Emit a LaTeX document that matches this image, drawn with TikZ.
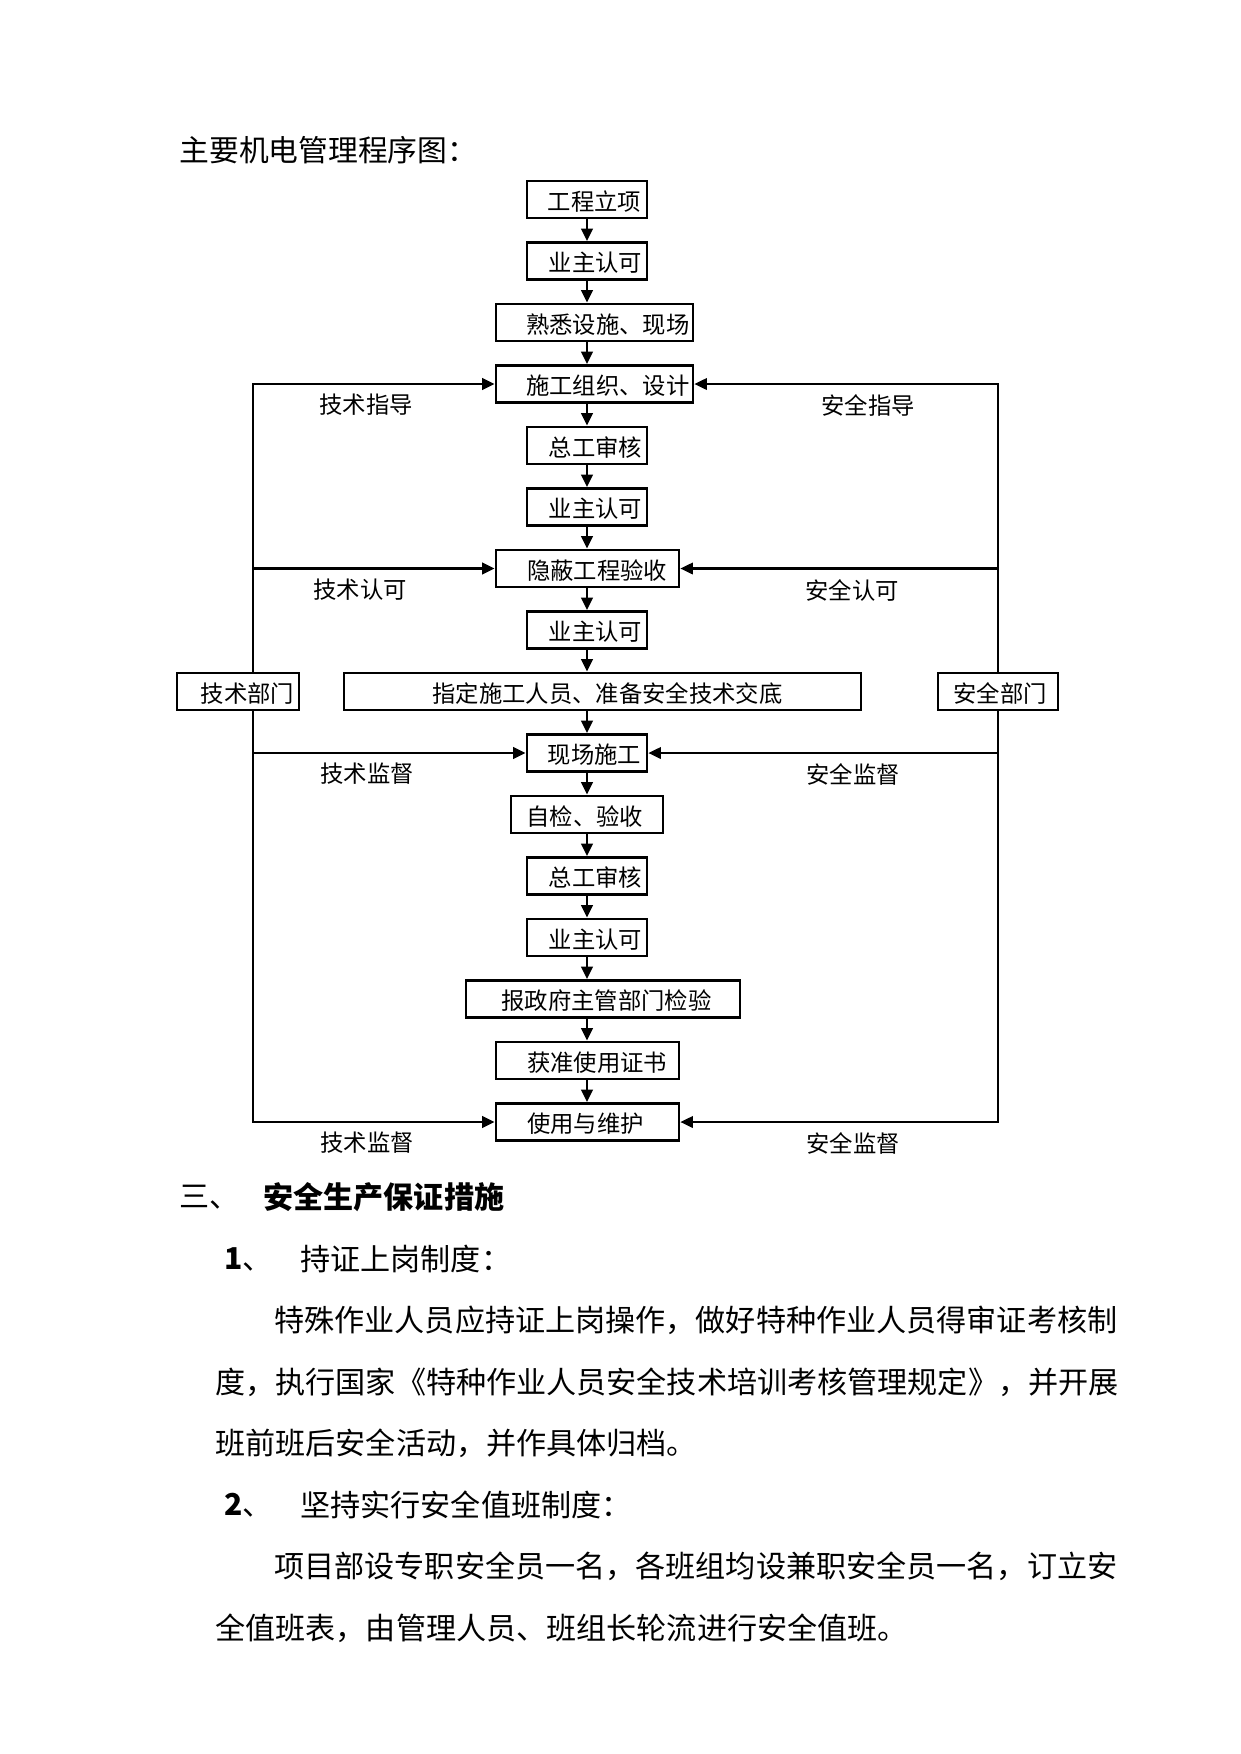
\documentclass[tikz,border=0pt]{standalone}
\usepackage{fontspec}
\setmainfont{Liberation Serif}
\newfontfamily\cjk{Noto Sans CJK SC}
\usetikzlibrary{arrows.meta}
\newcommand\bxfont{\cjk\fontsize{11.2pt}{13pt}\selectfont}
\newcommand\bdfont{\cjk\fontsize{14.45pt}{17pt}\selectfont}
\newcommand\ttlfont{\cjk\fontsize{14.3pt}{16pt}\selectfont}
\tikzset{
  x=0.48pt, y=-0.48pt,
  fbox/.style={draw, fill=white, line width=1.3pt, inner xsep=0pt, inner ysep=0pt,
    minimum height=17.8pt, text width=#1*0.48pt, align=left, font=\bxfont},
  arr/.style={line width=1.3pt, -{Triangle[length=6pt,width=5.5pt]}},
  conn/.style={line width=1.3pt, -{Triangle[length=6pt,width=5.5pt]}},
  connr/.style={line width=1pt, -{Triangle[length=6pt,width=5.5pt]}},
  lbl/.style={font=\bxfont, inner sep=0pt},
  txt/.style={anchor=west, inner sep=0pt, font=\bdfont},
}
\newcommand\bt[2]{\hspace*{#1}\raisebox{-0.9pt}[\height][\depth]{#2}}
\begin{document}
\begin{tikzpicture}
\useasboundingbox (0,0) rectangle (1241,1754);
% title
\node[txt, font=\ttlfont] (title) at (179,150) {主要机电管理程序图：};
% boxes
\node[fbox=120] (b1) at (587,199.5) {\bt{10pt}{工程立项}};
\node[fbox=120] (b2) at (587,261) {\bt{10.5pt}{业主认可}};
\node[fbox=197] (b3) at (594.5,322.5) {\bt{14.5pt}{熟悉设施、现场}};
\node[fbox=197] (b4) at (594.5,384) {\bt{14.5pt}{施工组织、设计}};
\node[fbox=120] (b5) at (587,445.5) {\bt{10.5pt}{总工审核}};
\node[fbox=120] (b6) at (587,507) {\bt{10.5pt}{业主认可}};
\node[fbox=183] (b7) at (587.5,568.5) {\bt{15pt}{隐蔽工程验收}};
\node[fbox=120] (b8) at (587,630) {\bt{10.5pt}{业主认可}};
\node[fbox=517] (b9) at (602.5,691.5) {\bt{42.5pt}{指定施工人员、准备安全技术交底}};
\node[fbox=120] (b10) at (587,753) {\bt{10pt}{现场施工}};
\node[fbox=152] (b11) at (587,814.5) {\bt{7.5pt}{自检、验收}};
\node[fbox=120] (b12) at (587,876) {\bt{10.5pt}{总工审核}};
\node[fbox=120] (b13) at (587,937.5) {\bt{10.5pt}{业主认可}};
\node[fbox=274] (b14) at (603,999) {\bt{17pt}{报政府主管部门检验}};
\node[fbox=183] (b15) at (587.5,1060.5) {\bt{15pt}{获准使用证书}};
\node[fbox=183] (b16) at (587.5,1122) {\bt{15pt}{使用与维护}};
% vertical flow
\foreach \a/\b in {b1/b2,b2/b3,b3/b4,b4/b5,b5/b6,b6/b7,b7/b8,b8/b9,b9/b10,b10/b11,b11/b12,b12/b13,b13/b14,b14/b15,b15/b16}
  \draw[arr] (\a.south -| b1) -- (\b.north -| b1);
% side departments
\coordinate (L) at (253,691.5);
\draw[conn] (L) |- (b4.west);
\draw[conn] (L) |- (b7.west);
\draw[conn] (L) |- (b10.west);
\draw[conn] (L) |- (b16.west);
\coordinate (R) at (998,691.5);
\draw[connr] (R) |- (b4.east);
\draw[connr] (R) |- (b7.east);
\draw[connr] (R) |- (b10.east);
\draw[connr] (R) |- (b16.east);
\node[fbox=122] (jsb) at (238,691.5) {\bt{11.5pt}{技术部门}};
\node[fbox=120] (aqb) at (998,691.5) {\bt{7.5pt}{安全部门}};
% labels
\node[lbl] (l1) at (366,405) {技术指导};
\node[lbl] (r1) at (868,405) {安全指导};
\node[lbl] (l2) at (360,590) {技术认可};
\node[lbl] (r2) at (852,590) {安全认可};
\node[lbl] (l3) at (367,774) {技术监督};
\node[lbl] (r3) at (853,774) {安全监督};
\node[lbl] (l4) at (367,1143) {技术监督};
\node[lbl] (r4) at (853,1143) {安全监督};
% text below
\node[txt] (h3a) at (179,1197) {三、};
\node[txt, font=\bdfont\bfseries] (h3b) at (263,1197) {安全生产保证措施};
\node[txt] (n1) at (224,1259) {{\bfseries 1}、};
\node[txt] (n1t) at (300,1259) {持证上岗制度：};
\node[txt] (p1) at (274,1320) {特殊作业人员应持证上岗操作，做好特种作业人员得审证考核制};
\node[txt] (p2) at (215,1382) {度，执行国家《特种作业人员安全技术培训考核管理规定》，并开展};
\node[txt] (p3) at (215,1443) {班前班后安全活动，并作具体归档。};
\node[txt] (n2) at (224,1505) {{\bfseries 2}、};
\node[txt] (n2t) at (300,1505) {坚持实行安全值班制度：};
\node[txt] (q1) at (274,1566) {项目部设专职安全员一名，各班组均设兼职安全员一名，订立安};
\node[txt] (q2) at (215,1628) {全值班表，由管理人员、班组长轮流进行安全值班。};
\end{tikzpicture}
\end{document}
